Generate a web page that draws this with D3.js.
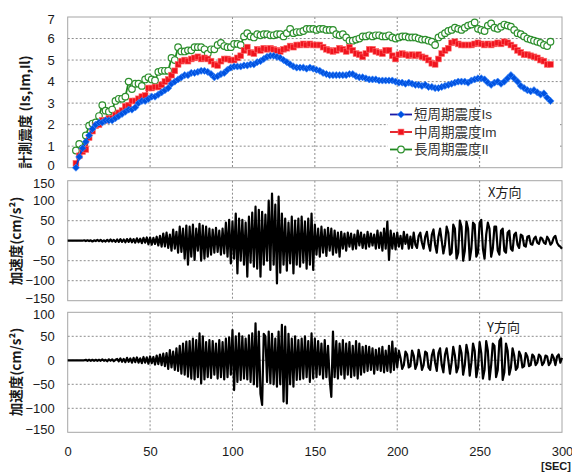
<!DOCTYPE html>
<html><head><meta charset="utf-8">
<script src="https://cdn.jsdelivr.net/npm/d3@7"></script>
<style>
body{margin:0;background:#fff;}
svg{display:block;font-family:"Noto Sans CJK JP","Noto Sans",sans-serif;}
</style>
</head><body>
<svg id="c" width="572" height="473"></svg>
<script>
// ---------- data ----------
const xTicks = [0, 50, 100, 150, 200, 250, 300];
const intensityTicks = [0, 1, 2, 3, 4, 5, 6, 7];
const accXTicks = [-150, -100, -50, 0, 50, 100, 150];
const accYTicks = [-150, -100, -50, 0, 50, 100];
const seriesNames = ["短周期震度Is", "中周期震度Im", "長周期震度Il"];
const directionNames = ["X方向", "Y方向"];
const intensityStart = 5, intensityStep = 2;   // seconds
const accStep = 1;                               // seconds

const Is = [0.0,0.5,0.9,1.2,1.5,1.8,2.0,2.1,2.1,2.2,
 2.2,2.2,2.3,2.4,2.5,2.6,2.7,2.7,2.8,3.0,
 3.1,3.1,3.2,3.3,3.3,3.4,3.5,3.6,3.7,3.9,
 4.0,4.1,4.2,4.3,4.3,4.4,4.4,4.45,4.5,4.5,
 4.45,4.35,4.2,4.25,4.35,4.4,4.55,4.65,4.7,4.7,
 4.7,4.75,4.75,4.8,4.8,4.9,4.95,5.05,5.15,5.2,
 5.2,5.15,5.1,5.0,4.9,4.8,4.7,4.65,4.65,4.65,
 4.6,4.65,4.6,4.55,4.5,4.4,4.35,4.3,4.3,4.3,
 4.3,4.3,4.3,4.35,4.35,4.25,4.2,4.2,4.15,4.1,
 4.1,4.1,4.05,4.05,4.05,4.05,4.05,4.0,3.95,3.95,
 3.9,3.95,3.9,3.85,3.85,3.8,3.85,3.75,3.75,3.7,
 3.7,3.75,3.8,3.85,3.9,3.95,4.0,4.0,4.0,3.95,
 4.05,4.1,4.15,4.15,4.1,3.95,3.85,3.95,4.0,3.9,
 4.0,4.15,4.3,4.15,4.0,3.8,3.7,3.6,3.55,3.6,
 3.5,3.4,3.45,3.25,3.1];

const Im = [0.2,0.55,0.75,0.85,1.4,1.7,1.95,2.0,2.2,2.2,
 2.3,2.3,2.45,2.55,2.65,2.85,2.9,3.1,3.1,3.2,
 3.3,3.35,3.7,3.7,3.75,3.75,3.85,4.0,4.1,4.3,
 4.5,4.8,4.95,5.0,4.95,5.05,5.1,5.15,5.05,5.1,
 5.05,4.95,4.8,4.75,4.95,5.05,5.05,5.0,5.0,5.1,
 5.2,5.45,5.6,5.35,5.3,5.5,5.45,5.55,5.5,5.55,
 5.5,5.45,5.4,5.5,5.55,5.65,5.6,5.7,5.7,5.75,
 5.7,5.75,5.7,5.7,5.7,5.6,5.5,5.45,5.4,5.45,
 5.55,5.5,5.4,5.6,5.45,5.3,5.25,5.15,5.3,5.5,
 5.5,5.4,5.35,5.3,5.45,5.45,5.2,5.05,5.25,5.3,
 5.25,5.2,5.25,5.2,5.25,5.15,5.1,5.0,4.85,4.8,
 5.05,5.3,5.45,5.55,5.8,5.85,5.75,5.7,5.7,5.7,
 5.7,5.75,5.8,5.75,5.7,5.75,5.7,5.75,5.8,5.75,
 5.85,5.8,5.7,5.6,5.45,5.35,5.25,5.25,5.2,5.15,
 5.1,5.0,4.95,4.8,4.8];

const Il = [0.8,1.1,0.9,1.5,1.95,2.05,2.1,2.4,2.9,2.65,
 2.6,2.7,3.1,3.2,3.2,3.3,4.0,3.65,3.9,3.9,
 3.8,4.1,4.2,4.1,4.05,4.45,4.5,4.5,4.5,5.1,
 5.0,5.6,5.4,5.4,5.45,5.45,5.6,5.6,5.6,5.5,
 5.3,5.5,5.5,5.7,5.8,5.65,5.6,5.6,5.75,5.75,
 5.7,6.1,6.25,6.1,6.05,6.2,6.15,6.2,6.2,6.15,
 6.15,6.2,6.2,6.1,6.25,6.45,6.25,6.3,6.3,6.35,
 6.45,6.45,6.45,6.4,6.45,6.45,6.4,6.4,6.4,6.2,
 6.15,6.2,6.05,5.9,5.9,5.95,6.0,6.1,6.1,6.15,
 6.1,6.15,6.15,6.1,6.1,6.15,6.05,6.0,6.05,6.1,
 6.1,6.05,6.05,6.05,6.0,5.95,5.95,5.9,5.85,5.7,
 6.05,6.15,6.25,6.35,6.4,6.5,6.45,6.4,6.5,6.6,
 6.65,6.75,6.45,6.4,6.35,6.6,6.7,6.5,6.45,6.55,
 6.65,6.6,6.55,6.4,6.25,6.2,6.1,6.0,5.95,5.9,
 5.85,5.8,5.7,5.65,5.85];

const accX = [0,0,0,0,0,0,0,0,0,0,
 1,-1,1,-1,1,-2,1,-1,2,-1,
 2,-2,1,-2,2,-2,3,-2,2,-3,
 3,-3,4,-3,3,-4,4,-3,5,-4,
 4,-5,6,-4,5,-6,7,-5,8,-9,
 8,-10,7,-8,10,-12,12,-15,18,-14,
 20,-18,15,-25,28,-20,22,-30,35,-28,
 30,-45,38,-60,35,-40,40,-48,30,-25,
 42,-50,38,-45,35,-40,30,-35,28,-30,
 32,-28,25,-35,30,-32,45,-40,52,-57,
 48,-45,68,-82,55,-50,52,-60,45,-90,
 60,-55,70,-65,85,-70,77,-90,72,-60,
 65,-50,100,-73,118,-60,90,-107,110,-80,
 68,-60,55,-75,45,-57,60,-82,50,-60,
 55,-65,60,-55,48,-70,55,-60,68,-73,
 40,-35,30,-40,35,-30,28,-38,32,-25,
 30,-35,25,-30,20,-40,22,-20,18,-25,
 20,-15,18,-22,15,-20,25,-12,20,-18,
 15,-20,22,-15,18,-12,15,-20,25,-18,
 20,-25,30,-20,48,-48,25,-20,18,-22,
 20,-15,12,-20,22,-8,15,-20,10,-18,
 20,-10,-18,12,20,-5,-20,10,22,-8,
 -25,15,28,-10,-30,10,30,0,-32,-10,
 35,20,-35,-30,40,30,-45,-30,50,35,
 -50,-25,48,30,-48,-20,45,40,-40,-30,
 45,52,-20,-45,15,45,30,-40,-20,35,
 35,-25,-35,25,30,-25,-30,20,25,-20,
 -25,15,20,-10,-18,15,12,-12,-15,10,
 12,-8,-10,5,10,-5,-8,8,5,-5,
 -8,10,3,-10,-5,8,12,-5,-12,-15,
 -20];

const accY = [0,0,0,0,0,0,0,0,0,0,
 0,1,-1,1,-1,1,-1,1,-1,1,
 -1,2,-1,1,-2,2,-1,2,-2,1,
 3,-2,4,-3,3,-4,5,-3,4,-5,
 5,-4,6,-5,4,-6,7,-5,6,-7,
 8,-6,7,-9,10,-8,12,-10,14,-12,
 15,-18,21,-15,18,-20,25,-22,30,-28,
 35,-30,39,-34,40,-38,45,-40,42,-35,
 56,-48,50,-40,38,-35,42,-37,40,-30,
 35,-38,42,-35,38,-40,45,-35,48,-30,
 63,-62,50,-45,56,-41,50,-38,45,-40,
 52,-45,56,-50,77,-55,60,-70,-93,55,
 50,-45,60,-48,55,-50,45,-55,60,-50,
 74,-86,70,-90,55,-50,45,-55,50,-41,
 42,-40,45,-38,50,-35,40,-45,56,-38,
 45,-35,40,-30,35,-38,42,-35,30,-40,
 -76,60,-35,40,-38,35,-30,42,-38,35,
 -30,38,-35,30,-32,40,-38,35,-30,28,
 -25,30,-22,28,-20,25,-28,22,-20,25,
 -22,28,-25,20,-22,30,-25,39,-20,25,
 -15,20,5,-18,-10,18,12,-15,-12,20,
 10,-18,-8,22,5,-20,-10,18,15,-15,
 -20,10,22,-5,-22,15,25,-10,-25,12,
 25,0,-28,-5,28,10,-25,-15,30,15,
 -30,-10,32,15,-32,-5,35,20,-35,-15,
 38,15,-38,-20,40,20,-40,-10,35,30,
 -35,-20,40,46,-41,-25,35,20,-30,-15,
 25,10,-20,-15,18,10,-15,-12,15,8,
 -12,-10,12,8,-10,-5,12,8,-10,-5,
 10,8,-10,-5,12,5,-10,8,12,-5,
 5];

// ---------- drawing ----------
const svg = d3.select("#c");
const L = 67.7, R = 562;
const x = d3.scaleLinear().domain([0, 300]).range([L, R]);
const textCol = "#1a1a1a";
const numFont = '"Liberation Sans",Arial,sans-serif';
const legendFont = '"Liberation Sans","Noto Sans CJK JP",sans-serif';

function panel(top, bottom, domain, ticks) {
  const y = d3.scaleLinear().domain(domain).range([bottom, top]);
  const g = svg.append("g");
  g.selectAll(".vg").data(xTicks.slice(1, -1)).join("line")
    .attr("x1", d => x(d)).attr("x2", d => x(d)).attr("y1", top).attr("y2", bottom)
    .attr("stroke", "#8c8c8c").attr("stroke-width", 1).attr("stroke-dasharray", "2,2");
  g.selectAll(".hg").data(ticks.filter(t => t !== domain[0] && t !== domain[1])).join("line")
    .attr("x1", L).attr("x2", R).attr("y1", d => y(d)).attr("y2", d => y(d))
    .attr("stroke", "#8c8c8c").attr("stroke-width", 1).attr("stroke-dasharray", "2,2");
  g.append("rect").attr("x", L).attr("y", top).attr("width", R - L).attr("height", bottom - top)
    .attr("fill", "none").attr("stroke", "#a6a6a6").attr("stroke-width", 1);
  const ax = svg.append("g").attr("transform", `translate(${L},0)`)
    .call(d3.axisLeft(y).tickValues(ticks).tickFormat(d3.format("d")).tickSize(0).tickPadding(13));
  ax.select(".domain").remove();
  ax.selectAll("text").attr("font-size", 13).attr("fill", textCol).attr("font-family", numFont)
    .attr("dy", d => d === domain[0] ? "0.1em" : (d === domain[1] ? "0.5em" : "0.32em"));
  return y;
}

// ----- top panel: intensities -----
const yI = panel(17, 167.7, [0, 7], intensityTicks);
const tOf = i => intensityStart + i * intensityStep;
const lineI = d3.line().x((d, i) => x(tOf(i))).y(d => yI(d));
const gTop = svg.append("g");

const series = [
  {data: Il, line: "#1f8a1f", kind: "circle"},
  {data: Im, line: "#e3141b", kind: "square"},
  {data: Is, line: "#0a3fd0", kind: "diamond"}
];

function drawMarkers(g, kind, pts) {
  if (kind === "circle") {
    g.selectAll("circle").data(pts).join("circle")
      .attr("cx", d => d[0]).attr("cy", d => d[1]).attr("r", 3.3)
      .attr("fill", "#fff").attr("stroke", "#2d8f2d").attr("stroke-width", 1.2);
  } else if (kind === "square") {
    g.selectAll("rect").data(pts).join("rect")
      .attr("x", d => d[0] - 2.9).attr("y", d => d[1] - 2.9).attr("width", 5.8).attr("height", 5.8)
      .attr("fill", "#f0141e").attr("stroke", "#ff6a6a").attr("stroke-width", 0.6);
  } else {
    g.selectAll("path").data(pts).join("path")
      .attr("d", d3.symbol(d3.symbolSquare, 26)())
      .attr("transform", d => `translate(${d[0]},${d[1]}) rotate(45)`)
      .attr("fill", "#0052e0").attr("stroke", "#3d8cff").attr("stroke-width", 0.6);
  }
}

series.forEach(s => {
  gTop.append("path").attr("d", lineI(s.data)).attr("fill", "none")
    .attr("stroke", s.line).attr("stroke-width", 1.8);
  const pts = s.data.map((v, i) => [x(tOf(i)), yI(v)]);
  drawMarkers(gTop.append("g"), s.kind, pts);
});

// legend (white box hides the grid behind it)
svg.append("rect").attr("x", 388).attr("y", 107).attr("width", 172).attr("height", 50).attr("fill", "#fff");
const legendItems = [
  {name: seriesNames[0], line: "#1a1aa8", kind: "diamond", y: 114.5},
  {name: seriesNames[1], line: "#e3141b", kind: "square", y: 132},
  {name: seriesNames[2], line: "#1f8a1f", kind: "circle", y: 149.5}
];
legendItems.forEach(it => {
  const g = svg.append("g");
  g.append("line").attr("x1", 390).attr("x2", 412).attr("y1", it.y).attr("y2", it.y)
    .attr("stroke", it.line).attr("stroke-width", 1.8);
  drawMarkers(g.append("g"), it.kind, [[401, it.y]]);
  g.append("text").attr("x", 414).attr("y", it.y).attr("dy", "0.36em")
    .attr("font-family", legendFont)
    .attr("font-size", 13.5).attr("fill", "#333").text(it.name);
});

// ----- middle panel: X acceleration -----
const yX = panel(180.7, 300.7, [-150, 150], accXTicks);
svg.append("path")
  .attr("d", d3.line().x((d, i) => x(i * accStep)).y(d => yX(d))(accX))
  .attr("fill", "none").attr("stroke", "#000").attr("stroke-width", 2.2).attr("stroke-linejoin", "round");
svg.append("text").attr("x", 488).attr("y", 192).attr("dy", "0.36em")
  .attr("font-size", 13).attr("fill", textCol).text(directionNames[0]);

// ----- bottom panel: Y acceleration -----
const yY = panel(312.3, 432.3, [-150, 100], accYTicks);
svg.append("path")
  .attr("d", d3.line().x((d, i) => x(i * accStep)).y(d => yY(d))(accY))
  .attr("fill", "none").attr("stroke", "#000").attr("stroke-width", 2.2).attr("stroke-linejoin", "round");
svg.append("text").attr("x", 487).attr("y", 327).attr("dy", "0.36em")
  .attr("font-size", 13).attr("fill", textCol).text(directionNames[1]);

// x axis
const xa = svg.append("g").attr("transform", "translate(0,432.3)")
  .call(d3.axisBottom(x).tickValues(xTicks).tickSize(0).tickPadding(14.5));
xa.select(".domain").remove();
xa.selectAll("text").attr("font-size", 13).attr("fill", textCol).attr("font-family", numFont);
svg.append("text").attr("x", 556).attr("y", 466).attr("dy", "0.36em").attr("text-anchor", "middle")
  .attr("font-size", 11).attr("font-weight", "bold").attr("fill", textCol)
  .attr("font-family", numFont).text("[SEC]");

// axis titles
function vTitle(cx, cy, txt) {
  svg.append("text").attr("transform", `translate(${cx},${cy}) rotate(-90)`)
    .attr("text-anchor", "middle").attr("dy", "0.36em")
    .attr("font-size", 13.5).attr("font-weight", "bold").attr("fill", textCol).text(txt);
}
vTitle(25, 112, "計測震度 (Is,Im,Il)");
vTitle(16, 241, "加速度(cm/s²)");
vTitle(16, 372, "加速度(cm/s²)");
</script>
</body></html>
